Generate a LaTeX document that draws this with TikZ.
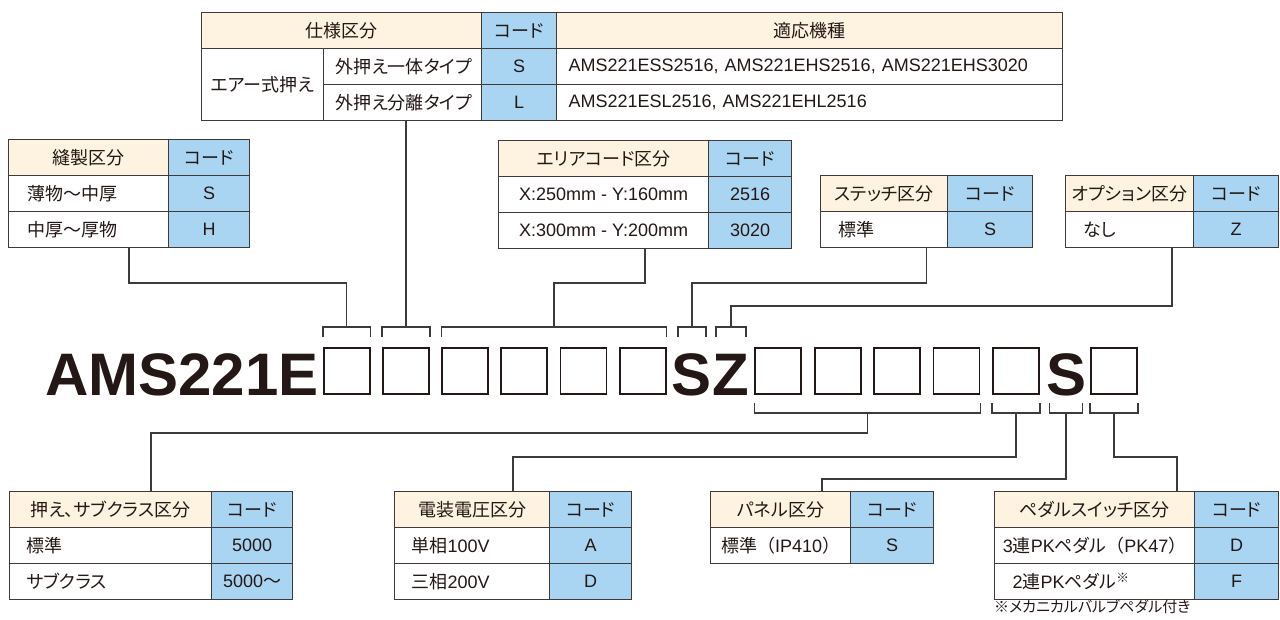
\documentclass[tikz,border=0pt]{standalone}
\usepackage{fontspec}
\setmainfont{Liberation Sans}
\newfontfamily\jp[Scale=1.0,RawFeature=+palt]{Noto Sans CJK JP}
\newfontfamily\jpw{Noto Sans CJK JP}
\usetikzlibrary{calc}
\definecolor{ink}{RGB}{35,24,21}
\definecolor{rule}{RGB}{62,58,57}
\definecolor{cream}{RGB}{254,243,224}
\definecolor{sky}{RGB}{170,213,242}
\newcommand\tx{\fontsize{18}{21}\selectfont}
\begin{document}
\begin{tikzpicture}[x=1pt,y=-1pt,
    cell/.style={draw=rule,line width=1.2pt,anchor=north west,minimum height=36pt,inner sep=0pt,font=\tx,text=ink},
    hd/.style={cell,fill=cream},
    cd/.style={cell,fill=sky},
    wt/.style={cell,fill=white},
    lf/.style 2 args={wt,align=left,text width=#1,inner xsep=#2},
    bx/.style={draw=ink,line width=1.8pt,minimum width=46pt,minimum height=46.5pt,inner sep=0pt},
    big/.style={font=\fontsize{60}{60}\selectfont\bfseries,text=ink,inner sep=0pt,anchor=base},
    ln/.style={draw=rule,line width=1.4pt}]
\useasboundingbox (0,0) rectangle (1280,619);
% model code
\node[big,anchor=base west] (pre) at (45,395) {AMS221E};
\foreach \i in {1,...,6} \node[bx] (b\i) at ({346.7+59.2*(\i-1)},371) {};
\foreach \i in {7,...,11} \node[bx] (b\i) at ({778.3+59.4*(\i-7)},371) {};
\node[bx] (b12) at (1114,371) {};
\node[big] (cS) at (692,395) {S};
\node[big] (cZ) at (731,395) {Z};
\node[big] (cS2) at (1066,395) {S};
% tables above
\node[hd,minimum width=280pt] (spH) at (201,12) {\jp 仕様区分};
\node[cd,minimum width=75pt] (spHc) at (481,12) {\jp コード};
\node[hd,minimum width=506pt] (spHm) at (556,12) {\jp 適応機種};
\node[wt,minimum width=122pt,minimum height=72pt] (spA) at (201,48) {\jp エアー式押え};
\node[lf={134pt}{12pt}] (sp1) at (323,48) {\jp 外押え一体タイプ};
\node[cd,minimum width=75pt] (sp1c) at (481,48) {S};
\node[lf={482pt}{12pt}] (sp1m) at (556,48) {AMS221ESS2516, AMS221EHS2516, AMS221EHS3020};
\node[lf={134pt}{12pt}] (sp2) at (323,84) {\jp 外押え分離タイプ};
\node[cd,minimum width=75pt] (sp2c) at (481,84) {L};
\node[lf={482pt}{12pt}] (sp2m) at (556,84) {AMS221ESL2516, AMS221EHL2516};

\node[hd,minimum width=160pt] (swH) at (8,139) {\jp 縫製区分};
\node[cd,minimum width=81pt] (swHc) at (168,139) {\jp コード};
\node[lf={122pt}{19pt}] (sw1) at (8,175) {\jp 薄物〜中厚};
\node[cd,minimum width=81pt] (sw1c) at (168,175) {S};
\node[lf={122pt}{19pt}] (sw2) at (8,211) {\jp 中厚〜厚物};
\node[cd,minimum width=81pt] (sw2c) at (168,211) {H};

\node[hd,minimum width=210pt] (arH) at (498,140) {\jp エリアコード区分};
\node[cd,minimum width=83pt] (arHc) at (708,140) {\jp コード};
\node[wt,minimum width=210pt] (ar1) at (498,176) {X:250mm - Y:160mm};
\node[cd,minimum width=83pt] (ar1c) at (708,176) {2516};
\node[wt,minimum width=210pt] (ar2) at (498,212) {X:300mm - Y:200mm};
\node[cd,minimum width=83pt] (ar2c) at (708,212) {3020};

\node[hd,minimum width=127pt] (stH) at (820,175) {\jp ステッチ区分};
\node[cd,minimum width=85pt] (stHc) at (947,175) {\jp コード};
\node[lf={91pt}{18pt}] (st1) at (820,211) {\jp 標準};
\node[cd,minimum width=85pt] (st1c) at (947,211) {S};

\node[hd,minimum width=128pt] (opH) at (1065,175) {\jp オプション区分};
\node[cd,minimum width=85pt] (opHc) at (1193,175) {\jp コード};
\node[lf={92pt}{18pt}] (op1) at (1065,211) {\jp なし};
\node[cd,minimum width=85pt] (op1c) at (1193,211) {Z};
% tables below
\node[hd,minimum width=202pt] (sbH) at (9,491) {\jp 押え、サブクラス区分};
\node[cd,minimum width=81pt] (sbHc) at (211,491) {\jp コード};
\node[lf={168pt}{17pt}] (sb1) at (9,527) {\jp 標準};
\node[cd,minimum width=81pt] (sb1c) at (211,527) {5000};
\node[lf={168pt}{17pt}] (sb2) at (9,563) {\jp サブクラス};
\node[cd,minimum width=81pt] (sb2c) at (211,563) {5000{\jp 〜}};

\node[hd,minimum width=155pt] (vtH) at (394,491) {\jp 電装電圧区分};
\node[cd,minimum width=82pt] (vtHc) at (549,491) {\jp コード};
\node[lf={121pt}{17pt}] (vt1) at (394,527) {{\jp 単相}100V};
\node[cd,minimum width=82pt] (vt1c) at (549,527) {A};
\node[lf={121pt}{17pt}] (vt2) at (394,563) {{\jp 三相}200V};
\node[cd,minimum width=82pt] (vt2c) at (549,563) {D};

\node[hd,minimum width=140pt] (pnH) at (710,491) {\jp パネル区分};
\node[cd,minimum width=83pt] (pnHc) at (850,491) {\jp コード};
\node[wt,minimum width=140pt] (pn1) at (710,527) {{\jp 標準}{\jpw （}IP410{\jpw ）}};
\node[cd,minimum width=83pt] (pn1c) at (850,527) {S};

\node[hd,minimum width=200pt] (pdH) at (994,491) {\jp ペダルスイッチ区分};
\node[cd,minimum width=84pt] (pdHc) at (1194,491) {\jp コード};
\node[wt,minimum width=200pt] (pd1) at (994,527) {3{\jp 連}PK{\jp ペダル}{\jpw （}PK47{\jpw ）}};
\node[cd,minimum width=84pt] (pd1c) at (1194,527) {D};
\node[lf={164pt}{18pt}] (pd2) at (994,563) {2{\jp 連}PK{\jp ペダル}\textsuperscript{\jp ※}};
\node[cd,minimum width=84pt] (pd2c) at (1194,563) {F};
\node[anchor=west,inner sep=0pt,text=ink,font=\fontsize{15}{16}\selectfont\jp] (note) at (994,607) {※メカニカルバルブペダル付き};
% brackets
\coordinate (tl) at (0,327); \coordinate (tf) at (0,337);
\coordinate (bl) at (0,413); \coordinate (bf) at (0,403);
\coordinate (h1) at (0,283); \coordinate (h2) at (0,306);
\coordinate (h3) at (0,433); \coordinate (h4) at (0,457); \coordinate (h5) at (0,479);
\coordinate (sL) at ($(cS.base)+(-14,0)$); \coordinate (sR) at ($(cS.base)+(14,0)$);
\coordinate (zL) at ($(cZ.base)+(-15,0)$); \coordinate (zR) at ($(cZ.base)+(15,0)$);
\coordinate (s2L) at ($(cS2.base)+(-16.5,0)$); \coordinate (s2R) at ($(cS2.base)+(16.5,0)$);
\foreach \a/\b in {b1.west/b1.east,b2.west/b2.east,b3.west/b6.east,sL/sR,zL/zR}
  \draw[ln] (\a|-tf)--(\a|-tl)--(\b|-tl)--(\b|-tf);
\foreach \a/\b in {b7.west/b10.east,b11.west/b11.east,s2L/s2R,b12.west/b12.east}
  \draw[ln] (\a|-bf)--(\a|-bl)--(\b|-bl)--(\b|-bf);
% connectors
\coordinate (m36) at ($(b3.north west)!.5!(b6.north east)$);
\coordinate (m710) at ($(b7.south west)!.5!(b10.south east)$);
\coordinate (sbTop) at ($(sbH.north west)!.5!(sbHc.north east)$);
\coordinate (vtTop) at ($(vtH.north west)!.5!(vtHc.north east)$);
\coordinate (pnTop) at ($(pnH.north west)!.5!(pnHc.north east)$);
\coordinate (pdTop) at ($(pdH.north west)!.91!(pdH.north east)$);
\draw[ln] ($(sw2.south west)!.5!(sw2c.south east)$) |- (b1.north|-h1) -- (b1.north|-tl);
\draw[ln] (b2.north|-sp2.south) -- (b2.north|-tl);
\draw[ln] ($(ar2.south west)!.5!(ar2c.south east)$) |- (m36|-h1) -- (m36|-tl);
\draw[ln] ($(st1.south west)!.5!(st1c.south east)$) |- (cS|-h1) -- (cS|-tl);
\draw[ln] ($(op1.south west)!.5!(op1c.south east)$) |- (cZ|-h2) -- (cZ|-tl);
\draw[ln] (m710|-bl) |- (sbTop|-h3) -- (sbTop);
\draw[ln] (b11.south|-bl) |- (vtTop|-h4) -- (vtTop);
\draw[ln] (cS2|-bl) |- (pnTop|-h5) -- (pnTop);
\draw[ln] (b12.south|-bl) |- (pdTop|-h4) -- (pdTop);
\end{tikzpicture}
\end{document}
